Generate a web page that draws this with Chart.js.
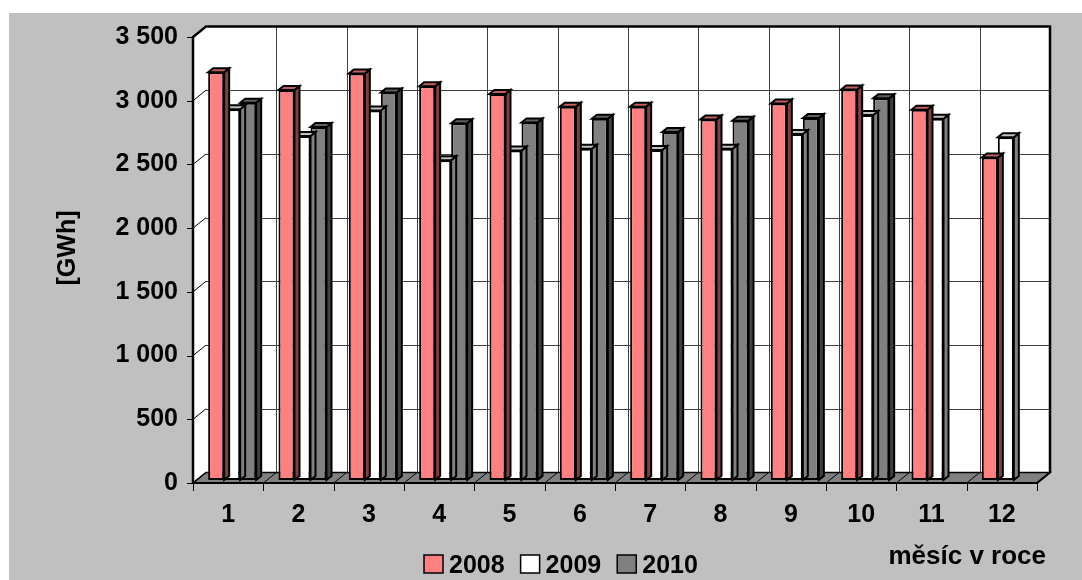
<!DOCTYPE html>
<html><head><meta charset="utf-8">
<script src="https://cdn.jsdelivr.net/npm/chart.js@4.4.1/dist/chart.umd.min.js"></script>
<style>
html,body{margin:0;padding:0;background:#fff;overflow:hidden}
#c{position:absolute;left:0;top:0}
</style>
</head><body>
<canvas id="c" width="1082" height="580"></canvas>
<script>
// ---- data ----
const months = ['1','2','3','4','5','6','7','8','9','10','11','12'];
const seriesNames = ['2008','2009','2010'];
const values2008 = [3200, 3060, 3190, 3090, 3030, 2930, 2930, 2830, 2955, 3065, 2905, 2530];
const values2009 = [2910, 2700, 2900, 2510, 2585, 2600, 2590, 2600, 2715, 2865, 2835, 2690];
const values2010 = [2960, 2770, 3040, 2800, 2805, 2835, 2730, 2820, 2840, 2995, null, null];
const yTickLabels = ['0','500','1 000','1 500','2 000','2 500','3 000','3 500'];
const yTitle = '[GWh]';
const xTitle = 'měsíc v roce';

// ---- styles ----
const FONT = '"Liberation Sans", Arial, sans-serif';
const frontColors = ['#FF8080', '#FFFFFF', '#808080'];
const sideColors  = ['#804040', '#808080', '#404040'];
const topColors   = ['#C06060', '#C0C0C0', '#606060'];

// 3D offsets relative to the bar plane
const FX = -4, FY = 3;      // front plane
const BX = 9,  BY = -7.5;   // back wall
const DX = 5,  DY = -4;     // bar depth

function crisp(v){ return Math.round(v) + 0.5; }
function line(ctx, x1, y1, x2, y2){ ctx.beginPath(); ctx.moveTo(x1, y1); ctx.lineTo(x2, y2); ctx.stroke(); }
function poly(ctx, pts, fill, stroke, lw){
  ctx.beginPath(); ctx.moveTo(pts[0][0], pts[0][1]);
  for (let i = 1; i < pts.length; i++) ctx.lineTo(pts[i][0], pts[i][1]);
  ctx.closePath();
  if (fill){ ctx.fillStyle = fill; ctx.fill(); }
  if (stroke){ ctx.strokeStyle = stroke; ctx.lineWidth = lw || 1; ctx.stroke(); }
}

const deco = {
  id: 'deco',
  beforeDraw(chart){
    const {ctx, chartArea: a, scales: {y}} = chart;
    const n = chart.data.labels.length;
    const cw = (a.right - a.left) / n;
    const fL = a.left + FX, fR = a.right + FX, fB = a.bottom + FY, fT = a.top + FY;
    const bL = a.left + BX, bR = a.right + BX, bB = a.bottom + BY, bT = a.top + BY;
    ctx.save();
    ctx.fillStyle = '#C0C0C0';
    ctx.fillRect(9, 13, 1082 - 9, 580 - 13);
    // walls
    ctx.fillStyle = '#FFFFFF';
    ctx.fillRect(bL, bT, bR - bL, bB - bT);
    poly(ctx, [[fL, fT], [bL, bT], [bL, bB], [fL, fB]], '#FFFFFF');
    // floor
    poly(ctx, [[fL, fB], [fR, fB], [bR, bB], [bL, bB]], '#808080', '#000', 1.5);
    // horizontal gridlines on back wall + left wall diagonals + ticks
    ctx.lineWidth = 1;
    y.ticks.forEach(t => {
      const py = y.getPixelForValue(t.value);
      ctx.strokeStyle = '#404040';
      if (t.value > y.min && t.value < y.max) line(ctx, bL, crisp(py + BY), bR, crisp(py + BY));
      ctx.strokeStyle = '#000';
      line(ctx, fL, py + FY, bL, py + BY);
      line(ctx, fL - 6, crisp(py + FY), fL, crisp(py + FY));
    });
    // vertical gridlines on back wall
    ctx.strokeStyle = '#404040';
    for (let k = 1; k < n; k++){
      const px = crisp(bL + k * cw);
      line(ctx, px, bT, px, bB);
    }
    // floor diagonals and x tick marks
    ctx.strokeStyle = '#000';
    for (let k = 0; k <= n; k++){
      line(ctx, fL + k * cw, fB, bL + k * cw, bB);
      const px = crisp(fL + k * cw);
      line(ctx, px, fB, px, fB + 8);
    }
    // thick outline
    ctx.lineWidth = 2.5; ctx.strokeStyle = '#000';
    ctx.beginPath();
    ctx.moveTo(fL, fB); ctx.lineTo(fL, fT); ctx.lineTo(bL, bT); ctx.lineTo(bR, bT); ctx.lineTo(bR, bB);
    ctx.stroke();
    ctx.lineWidth = 2;
    ctx.beginPath(); ctx.moveTo(fL, fB); ctx.lineTo(fR, fB); ctx.lineTo(bR, bB); ctx.stroke();
    ctx.restore();
  },
  beforeDatasetDraw(chart, args){
    const {ctx} = chart;
    const i = args.index;
    const raw = chart.data.datasets[i].data;
    ctx.save();
    ctx.lineJoin = 'miter';
    args.meta.data.forEach((el, j) => {
      if (raw[j] === null || raw[j] === undefined) return;
      const p = el.getProps(['x', 'y', 'base', 'width'], true);
      if (!isFinite(p.y)) return;
      const x1 = p.x - p.width / 2, x2 = p.x + p.width / 2, yt = p.y, yb = p.base;
      poly(ctx, [[x2, yt], [x2 + DX, yt + DY], [x2 + DX, yb + DY], [x2, yb]], sideColors[i], '#000', 2);
      poly(ctx, [[x1, yt], [x1 + DX, yt + DY], [x2 + DX, yt + DY], [x2, yt]], topColors[i], '#000', 2);
    });
    ctx.restore();
  },
  afterDraw(chart){
    const {ctx} = chart;
    ctx.save();
    ctx.fillStyle = '#000';
    // y title
    ctx.font = 'bold 25px ' + FONT;
    ctx.translate(68, 248); ctx.rotate(-Math.PI / 2);
    ctx.textAlign = 'center'; ctx.textBaseline = 'middle';
    ctx.fillText(yTitle, 0, 0);
    ctx.setTransform(1, 0, 0, 1, 0, 0);
    // x title
    ctx.font = 'bold 26px ' + FONT;
    ctx.textAlign = 'right'; ctx.textBaseline = 'alphabetic';
    ctx.fillText(xTitle, 1046, 564);
    // legend
    ctx.font = 'bold 25px ' + FONT;
    ctx.textAlign = 'left';
    let lx = 424;
    chart.data.datasets.forEach((ds, i) => {
      ctx.fillStyle = frontColors[i];
      ctx.fillRect(lx, 555, 19, 18);
      ctx.strokeStyle = '#000'; ctx.lineWidth = 1.5;
      ctx.strokeRect(lx, 555, 19, 18);
      ctx.fillStyle = '#000';
      ctx.fillText(ds.label, lx + 25, 573);
      lx += 25 + ctx.measureText(ds.label).width + 16;
    });
    ctx.restore();
  }
};

const seriesValues = [values2008, values2009, values2010];
new Chart(document.getElementById('c'), {
  type: 'bar',
  data: {
    labels: months,
    datasets: seriesNames.map((name, i) => ({
      label: name,
      data: seriesValues[i],
      backgroundColor: frontColors[i],
      borderColor: '#000',
      borderWidth: 2,
      borderSkipped: false,
      categoryPercentage: 0.683,
      barPercentage: 1.0
    }))
  },
  options: {
    responsive: false,
    animation: false,
    layout: { padding: { left: 0, right: 41, top: 33, bottom: 0 } },
    plugins: { legend: { display: false }, tooltip: { enabled: false } },
    scales: {
      x: {
        grid: { display: false, drawTicks: false },
        border: { display: false },
        ticks: { color: '#000', font: { family: FONT, size: 25, weight: 'bold' }, padding: 20, labelOffset: -4, maxRotation: 0, autoSkip: false },
        afterFit(s){ s.height = 100; }
      },
      y: {
        min: 0, max: 3500,
        grid: { display: false, drawTicks: false },
        border: { display: false },
        ticks: { stepSize: 500, color: '#000', font: { family: FONT, size: 25, weight: 'bold' }, padding: 19, labelOffset: 3,
                 callback: (v, idx) => yTickLabels[idx] },
        afterFit(s){ s.width = 197; }
      }
    }
  },
  plugins: [deco]
});
</script>
</body></html>
